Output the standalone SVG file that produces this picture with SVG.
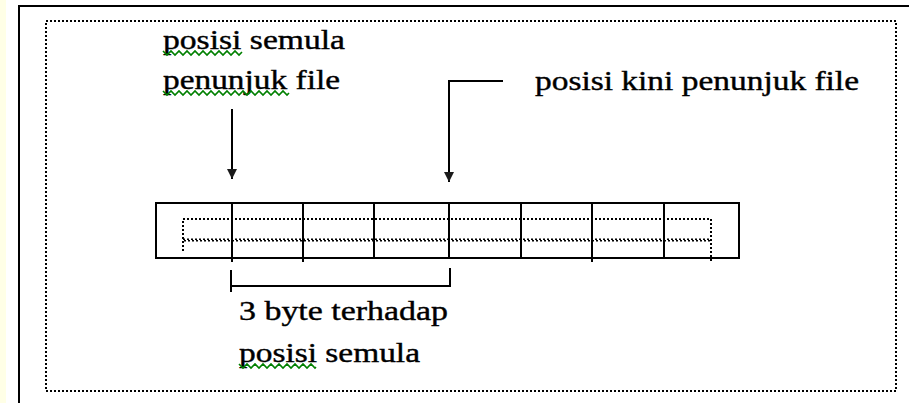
<svg xmlns="http://www.w3.org/2000/svg" width="909" height="403" viewBox="0 0 909 403">
  <defs>
    <style>
      .t { font-family: "Liberation Serif", "Times New Roman", serif; font-size: 28px; fill: #000; stroke: #000; stroke-width: 0.4; }
      .solid { fill: none; stroke: #000; stroke-width: 2; }
      .dot { fill: none; stroke: #000; stroke-width: 2; stroke-dasharray: 2 2; }
      .squig { fill: none; stroke: #008000; stroke-width: 1.6; }
    </style>
    <marker id="ah" markerUnits="userSpaceOnUse" markerWidth="12" markerHeight="12" refX="10" refY="5" orient="auto">
      <path d="M0,0 L10,5 L0,10 z" fill="#1a1a1a"/>
    </marker>
  </defs>

  <rect x="0" y="0" width="909" height="403" fill="#ffffff"/>
  <rect x="0" y="0" width="6" height="403" fill="#ffffe6"/>

  <g id="frame">
    <rect x="19" y="6" width="900" height="410" class="solid"/>
    <rect x="46" y="21" width="850" height="370" class="dot"/>
  </g>

  <g id="label-semula">
    <text class="t" x="163" y="49" textLength="182" lengthAdjust="spacingAndGlyphs">posisi semula</text>
    <text class="t" x="163" y="89" textLength="177" lengthAdjust="spacingAndGlyphs">penunjuk file</text>
    <polyline class="squig" points="163,51 167,55 171,51 175,55 179,51 183,55 187,51 191,55 195,51 199,55 203,51 207,55 211,51 215,55 219,51 223,55 227,51 231,55 235,51 239,55 242,52"/>
    <polyline class="squig" points="163,91 167,95 171,91 175,95 179,91 183,95 187,91 191,95 195,91 199,95 203,91 207,95 211,91 215,95 219,91 223,95 227,91 231,95 235,91 239,95 243,91 247,95 251,91 255,95 259,91 263,95 267,91 271,95 275,91 279,95 283,91 287,95 289,93"/>
  </g>

  <g id="label-kini">
    <text class="t" x="535" y="90" textLength="324" lengthAdjust="spacingAndGlyphs">posisi kini penunjuk file</text>
  </g>

  <g id="byte-array">
    <rect x="156" y="203" width="583" height="55" class="solid"/>
    <path class="solid" d="M232,203 V262 M303,203 V262 M374,203 V258 M449,203 V258 M521,203 V258 M592,203 V262 M664,203 V258"/>
    <path class="dot" d="M183,251 V219 H711 V261"/>
    <line class="dot" x1="183" y1="239.3" x2="711" y2="239.3" style="stroke-width:1.5"/>
    <line class="dot" x1="184" y1="240.7" x2="711" y2="240.7" style="stroke-width:1.5"/>
  </g>

  <g id="label-offset">
    <text class="t" x="239" y="320" textLength="209" lengthAdjust="spacingAndGlyphs">3 byte terhadap</text>
    <text class="t" x="239" y="362" textLength="181" lengthAdjust="spacingAndGlyphs">posisi semula</text>
    <polyline class="squig" points="239,364 243,368 247,364 251,368 255,364 259,368 263,364 267,368 271,364 275,368 279,364 283,368 287,364 291,368 295,364 299,368 303,364 307,368 311,364 315,368 316,367"/>
  </g>

  <g id="connectors">
    <line class="solid" x1="232" y1="109" x2="232" y2="179" marker-end="url(#ah)"/>
    <path class="solid" d="M503,81 H449 V182" marker-end="url(#ah)"/>
    <path class="solid" d="M231,270 V292 M231,286 H450 M450,268 V287"/>
  </g>
</svg>
